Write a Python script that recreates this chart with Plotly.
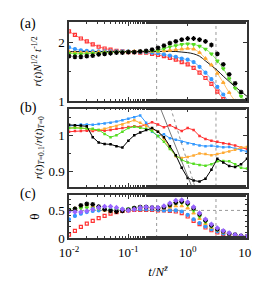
import numpy as np
import plotly.graph_objects as go

# time grid (t / N^zbar), 10 points per decade
t = [10 ** (-2 + k / 10) for k in range(31)]

# panel (a): r(t) N^{1/2} t^{-1/2}
a_red = [2.18, 2.12, 2.06, 2.01, 1.96, 1.92, 1.89, 1.87, 1.85, 1.84, 1.83, 1.83, 1.82, 1.82, 1.80, 1.78,
         1.76, 1.73, 1.70, 1.66, 1.62, 1.56, 1.48, 1.39, 1.29, 1.16, 1.03, 0.92, 0.82, 0.72, 0.62]
a_blue = [1.91, 1.88, 1.86, 1.85, 1.84, 1.84, 1.84, 1.84, 1.84, 1.84, 1.84, 1.83, 1.83, 1.83, 1.82, 1.81,
          1.79, 1.77, 1.75, 1.72, 1.70, 1.66, 1.58, 1.48, 1.37, 1.24, 1.11, 0.98, 0.88, 0.78, 0.68]
a_orange = [1.83, 1.82, 1.82, 1.82, 1.82, 1.83, 1.83, 1.83, 1.83, 1.83, 1.84, 1.84, 1.84, 1.84, 1.84, 1.84,
            1.85, 1.86, 1.87, 1.88, 1.89, 1.88, 1.82, 1.72, 1.61, 1.47, 1.31, 1.14, 1.00, 0.90, 0.80]
a_green = [1.81, 1.80, 1.80, 1.80, 1.81, 1.81, 1.82, 1.82, 1.83, 1.83, 1.83, 1.83, 1.84, 1.84, 1.85, 1.86,
           1.89, 1.92, 1.94, 1.96, 1.97, 1.96, 1.93, 1.88, 1.80, 1.68, 1.55, 1.38, 1.22, 1.08, 0.96]
a_black = [1.76, 1.75, 1.75, 1.76, 1.77, 1.79, 1.80, 1.81, 1.82, 1.82, 1.83, 1.83, 1.84, 1.85, 1.87, 1.90,
           1.94, 1.98, 2.01, 2.04, 2.06, 2.06, 2.04, 2.01, 1.95, 1.80, 1.62, 1.45, 1.30, 1.15, 1.02]
a_fit = [1.84, 1.84, 1.84, 1.84, 1.84, 1.84, 1.84, 1.84, 1.84, 1.84, 1.84, 1.84, 1.84, 1.84, 1.84, 1.84,
         1.84, 1.84, 1.84, 1.83, 1.82, 1.80, 1.76, 1.68, 1.60, 1.52, 1.42, 1.33, 1.24, 1.16, 1.08]

# panel (b): r(t)_{T=0.1} / r(t)_{T=0}
b_red = [1.010, 1.012, 1.012, 1.013, 1.012, 1.014, 1.013, 1.015, 1.018, 1.020, 1.023, 1.025, 1.024, 1.030,
         1.036, 1.030, 1.022, 1.028, 1.020, 1.012, 1.020, 1.015, 0.998, 0.990, 0.985, 0.982, 0.978, 0.976,
         0.972, 0.966, 0.962]
b_blue = [1.026, 1.028, 1.030, 1.030, 1.029, 1.031, 1.033, 1.035, 1.038, 1.042, 1.046, 1.050, 1.055, 1.035,
          1.010, 0.998, 1.003, 0.992, 0.988, 0.982, 0.978, 0.975, 0.972, 0.970, 0.971, 0.969, 0.967, 0.968,
          0.963, 0.958, 0.955]
b_orange = [1.020, 1.022, 1.020, 1.018, 1.016, 1.015, 1.018, 1.022, 1.026, 1.030, 1.036, 1.042, 1.035, 1.026,
            1.018, 1.010, 0.990, 0.965, 0.942, 0.937, 0.940, 0.944, 0.950, 0.948, 0.945, 0.948, 0.952, 0.955,
            0.960, 0.966, 0.968]
b_green = [1.020, 1.021, 1.020, 1.019, 1.018, 1.015, 1.004, 0.995, 1.000, 1.010, 1.020, 1.024, 1.021, 1.018,
           1.012, 0.998, 0.982, 0.962, 0.945, 0.932, 0.925, 0.921, 0.918, 0.916, 0.920, 0.928, 0.929, 0.928,
           0.920, 0.910, 0.908]
b_black = [1.029, 1.028, 1.027, 1.025, 0.995, 0.980, 0.976, 0.975, 0.970, 0.966, 0.985, 1.000, 1.008, 1.015,
           1.020, 1.010, 0.995, 0.970, 0.945, 0.910, 0.882, 0.875, 0.872, 0.880, 0.905, 0.935, 0.925, 0.915,
           0.912, 0.920, 0.935]
fit1_t = [0.30, 1.30]
fit1_y = [1.101, 0.840]
fit2_t = [0.45, 1.50]
fit2_y = [1.108, 0.829]

# panel (c): theta
c_red = [0.06, 0.13, 0.20, 0.26, 0.31, 0.36, 0.40, 0.44, 0.47, 0.49, 0.50, 0.51, 0.51, 0.51, 0.51, 0.50,
         0.50, 0.49, 0.48, 0.45, 0.39, 0.31, 0.25, 0.19, 0.14, 0.10, 0.07, 0.05, 0.03, 0.02, 0.01]
c_blue = [0.34, 0.40, 0.44, 0.47, 0.49, 0.50, 0.51, 0.51, 0.51, 0.52, 0.52, 0.52, 0.52, 0.52, 0.52, 0.51,
          0.50, 0.50, 0.50, 0.48, 0.42, 0.34, 0.27, 0.21, 0.16, 0.12, 0.08, 0.06, 0.04, 0.03, 0.02]
c_orange = [0.50, 0.53, 0.58, 0.60, 0.58, 0.54, 0.50, 0.48, 0.48, 0.50, 0.52, 0.54, 0.55, 0.55, 0.54, 0.53,
            0.54, 0.56, 0.58, 0.58, 0.54, 0.45, 0.35, 0.26, 0.19, 0.14, 0.10, 0.07, 0.05, 0.03, 0.02]
c_green = [0.52, 0.53, 0.54, 0.55, 0.54, 0.53, 0.52, 0.51, 0.51, 0.52, 0.53, 0.55, 0.56, 0.56, 0.55, 0.54,
           0.56, 0.59, 0.63, 0.64, 0.60, 0.50, 0.39, 0.29, 0.21, 0.15, 0.11, 0.08, 0.05, 0.04, 0.03]
c_black = [0.50, 0.53, 0.59, 0.62, 0.61, 0.57, 0.52, 0.49, 0.48, 0.49, 0.51, 0.54, 0.56, 0.56, 0.55, 0.54,
           0.56, 0.60, 0.64, 0.66, 0.63, 0.54, 0.43, 0.32, 0.23, 0.16, 0.12, 0.08, 0.06, 0.04, 0.03]
c_purple = [0.48, 0.47, 0.47, 0.49, 0.52, 0.55, 0.57, 0.57, 0.55, 0.52, 0.50, 0.52, 0.55, 0.56, 0.55, 0.55,
            0.58, 0.63, 0.68, 0.69, 0.65, 0.56, 0.45, 0.34, 0.25, 0.18, 0.13, 0.09, 0.06, 0.04, 0.03]

vlines_t = [0.3, 3.0]
c_hline = 0.5

x_tickvals = [0.01, 0.1, 1, 10]
x_ticktext = ["10<sup>-2</sup>", "10<sup>-1</sup>", "10<sup>0</sup>", "10<sup>1</sup>"]

RED, BLUE, ORANGE, GREEN, BLACK, PURPLE = "#ff3333", "#3399ff", "#ffaa33", "#55dd22", "#000000", "#9966ff"
styles = [
    (RED, "square-open", 3),
    (BLUE, "circle", 3),
    (ORANGE, "triangle-up", 3),
    (GREEN, "triangle-down", 3),
    (BLACK, "asterisk-open", 4),
]

fig = go.Figure()

# panel (a)
for col, ys in zip([RED, BLUE, ORANGE, GREEN], [a_red, a_blue, a_orange, a_green]):
    fig.add_trace(go.Scatter(x=t, y=ys, mode="lines", xaxis="x", yaxis="y",
                             line=dict(color=col, width=0.7, shape="spline"), showlegend=False))
fig.add_trace(go.Scatter(x=t, y=a_fit, mode="lines", xaxis="x", yaxis="y",
                         line=dict(color=BLACK, width=0.9, shape="spline"), showlegend=False))
for (col, sym, sz), ys in zip(styles, [a_red, a_blue, a_orange, a_green, a_black]):
    fig.add_trace(go.Scatter(x=t, y=ys, mode="markers", xaxis="x", yaxis="y",
                             marker=dict(color=col, symbol=sym, size=sz, line=dict(width=1.2, color=col)),
                             showlegend=False))

# panel (b)
for (col, sym, sz), ys in zip(styles, [b_red, b_blue, b_orange, b_green, b_black]):
    fig.add_trace(go.Scatter(x=t, y=ys, mode="lines+markers", xaxis="x2", yaxis="y2",
                             line=dict(color=col, width=1),
                             marker=dict(color=col, symbol="square", size=2.5),
                             showlegend=False))
fig.add_trace(go.Scatter(x=fit1_t, y=fit1_y, mode="lines", xaxis="x2", yaxis="y2",
                         line=dict(color="#555555", width=0.8), showlegend=False))
fig.add_trace(go.Scatter(x=fit2_t, y=fit2_y, mode="lines", xaxis="x2", yaxis="y2",
                         line=dict(color="#777777", width=0.8, dash="dot"), showlegend=False))

# panel (c)
c_styles = styles + [(PURPLE, "diamond", 3)]
for (col, sym, sz), ys in zip(c_styles, [c_red, c_blue, c_orange, c_green, c_black, c_purple]):
    fig.add_trace(go.Scatter(x=t, y=ys, mode="markers", xaxis="x3", yaxis="y3",
                             marker=dict(color=col, symbol=sym, size=sz, line=dict(width=1.2, color=col)),
                             showlegend=False))

shapes = []
for xr, yr in [("x", "y"), ("x2", "y2"), ("x3", "y3")]:
    for tv in vlines_t:
        shapes.append(dict(type="line", xref=xr, yref=yr + " domain", x0=tv, x1=tv, y0=0, y1=1,
                           line=dict(color="#999999", width=1, dash="dot"), layer="below"))
shapes.append(dict(type="line", xref="x3 domain", yref="y3", x0=0, x1=1, y0=c_hline, y1=c_hline,
                   line=dict(color="#999999", width=1, dash="dot"), layer="below"))

FONT = "Liberation Serif"
axis_common = dict(showline=True, linecolor="#333333", linewidth=1.5, mirror="ticks", ticks="inside",
                   ticklen=4, tickcolor="#333333", showgrid=False, zeroline=False,
                   tickfont=dict(family=FONT, size=13, color="black"))
xbase = dict(axis_common, type="log", range=[-2, 1], tickvals=x_tickvals, ticktext=x_ticktext,
             minor=dict(ticks="inside", ticklen=2, tickcolor="#333333", showgrid=False))

L = 61
R = 12
T = 12
B = 42
H = 281 - T - B

def dom(top_px, bot_px):
    return [(239 - bot_px) / H, (239 - top_px) / H]

fig.update_layout(
    width=260, height=281,
    margin=dict(l=L, r=R, t=T, b=B),
    paper_bgcolor="white", plot_bgcolor="white",
    font=dict(family=FONT, size=12, color="black"),
    shapes=shapes,
    xaxis=dict(xbase, domain=[0, 1], anchor="y", showticklabels=False),
    xaxis2=dict(xbase, domain=[0, 1], anchor="y2", matches="x", showticklabels=False),
    xaxis3=dict(xbase, domain=[0, 1], anchor="y3", matches="x", ticklabelstandoff=2,
                title=dict(text="<i>t</i>/<i>N</i><sup><i>z̄</i></sup>", standoff=8,
                           font=dict(family=FONT, size=13))),
    yaxis=dict(axis_common, domain=dom(12, 95), anchor="x", range=[1, 2.34], tickvals=[1, 2],
               minor=dict(ticks="inside", ticklen=2, dtick=0.5, tickcolor="#333333"),
               title=dict(text="<i>r</i>(<i>t</i>)<i>N</i><sup>1/2</sup> <i>t</i><sup>-1/2</sup>",
                          standoff=14, font=dict(family=FONT, size=11))),
    yaxis2=dict(axis_common, domain=dom(103, 185), anchor="x2", range=[0.858, 1.074], tickvals=[0.9, 1],
                ticktext=["0.9", "1"],
                minor=dict(ticks="inside", ticklen=2, dtick=0.05, tickcolor="#333333"),
                title=dict(text="<i>r</i>(<i>t</i>)<sub><i>T</i>=0.1</sub>/<i>r</i>(<i>t</i>)<sub><i>T</i>=0</sub>",
                           standoff=4, font=dict(family=FONT, size=11))),
    yaxis3=dict(axis_common, domain=dom(194, 239), anchor="x3", range=[0, 0.776], tickvals=[0, 0.5],
                ticktext=["0", "0.5"],
                minor=dict(ticks="inside", ticklen=2, dtick=0.1, tickcolor="#333333"),
                title=dict(text="θ", standoff=6, font=dict(family=FONT, size=13))),
)

for txt, py in [("(a)", 14), ("(b)", 102), ("(c)", 193)]:
    fig.add_annotation(text=txt, xref="paper", yref="paper", x=(18 - L) / 187, y=(239 - py) / H,
                       showarrow=False, xanchor="center", yanchor="middle",
                       font=dict(family=FONT, size=14, color="black"))

fig.write_html("out.html")
